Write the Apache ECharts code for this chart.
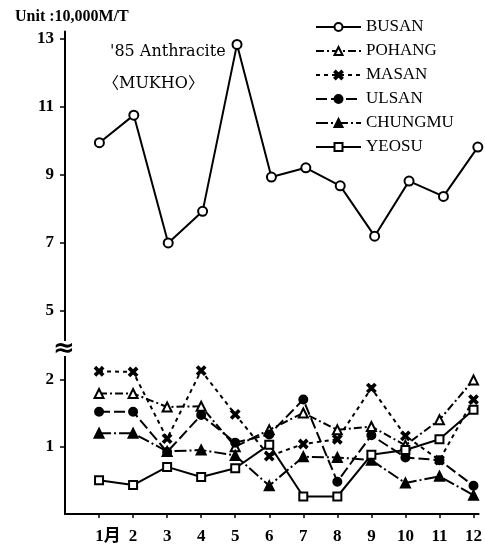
<!DOCTYPE html>
<html><head><meta charset="utf-8">
<script src="https://cdn.jsdelivr.net/npm/echarts@6.0.0/dist/echarts.min.js"></script>
<style>html,body{margin:0;padding:0;background:#fff}#c{width:485px;height:552px}</style>
</head><body><div id="c"></div>
<script>
// Month labels (x axis)
const months = ['1月','2','3','4','5','6','7','8','9','10','11','12'];
const monthNums = [1,2,3,4,5,6,7,8,9,10,11,12];
// Y tick labels
const upperTicks = [5,7,9,11,13];
const lowerTicks = [1,2];
// Series values (unit: 10,000 M/T)
const busan   = [9.93,10.74,6.98,7.91,12.82,8.92,9.19,8.66,7.18,8.80,8.35,9.80];
const pohang  = [1.79,1.79,1.59,1.60,1.00,1.25,1.50,1.25,1.30,1.02,1.40,1.99];
const masan   = [2.12,2.11,1.12,2.13,1.48,0.86,1.04,1.11,1.87,1.16,0.80,1.70];
const ulsan   = [1.52,1.52,0.92,1.47,1.06,1.18,1.70,0.48,1.17,0.84,0.80,0.42];
const chungmu = [1.20,1.20,0.93,0.95,0.87,0.42,0.85,0.84,0.80,0.46,0.56,0.28];
const yeosu   = [0.50,0.43,0.70,0.55,0.68,1.03,0.26,0.26,0.88,0.95,1.11,1.55];

const serif = "'Liberation Serif','Noto Sans CJK JP',serif";
const xMark = 'path://M0,1.5L1.5,0L5,3.5L8.5,0L10,1.5L6.5,5L10,8.5L8.5,10L5,6.5L1.5,10L0,8.5L3.5,5Z';
const pairs = arr => arr.map((v,i)=>[monthNums[i], v]);

function lineSeries(name, arr, grid, symbol, dash, size){
  return {
    name, type:'line', data: pairs(arr),
    xAxisIndex: grid, yAxisIndex: grid,
    symbol, symbolSize: size || 8,
    lineStyle:{color:'#000', width:2, type: dash},
    itemStyle:{color:'#000', borderColor:'#000', borderWidth:2},
    emphasis:{disabled:true}, z: 3
  };
}

const chart = echarts.init(document.getElementById('c'), null, {renderer:'canvas'});
chart.setOption({
  animation:false,
  backgroundColor:'#fff',
  grid:[
    {left:65, right:2, top:31.5, bottom:173.7},
    {left:65, right:2, top:355.8, bottom:38}
  ],
  xAxis:[
    {type:'value', gridIndex:0, min:0, max:12.15, show:false},
    {type:'value', gridIndex:1, min:0, max:12.15,
     axisLine:{show:true, lineStyle:{color:'#000', width:2}},
     axisTick:{show:true, customValues: monthNums, length:4, lineStyle:{color:'#000', width:1.5}},
     splitLine:{show:false},
     axisLabel:{customValues: monthNums, margin:14, color:'#000', fontSize:17, fontWeight:'bold', fontFamily:serif,
       formatter: v => v===1 ? '{f|'+months[0]+'}' : months[v-1],
       rich:{f:{fontSize:17, fontWeight:'bold', fontFamily:serif, color:'#000', padding:[0,0,0,18]}}}
    }
  ],
  yAxis:[
    {type:'value', gridIndex:0, min:3, max:13.2,
     axisLine:{show:true, lineStyle:{color:'#000', width:2}},
     axisTick:{show:true, customValues: upperTicks, length:5, lineStyle:{color:'#000', width:1.5}},
     axisLabel:{customValues: upperTicks, margin:11, color:'#000', fontSize:17, fontWeight:'bold', fontFamily:serif},
     splitLine:{show:false}},
    {type:'value', gridIndex:1, min:0, max:2.35,
     axisLine:{show:true, lineStyle:{color:'#000', width:2}},
     axisTick:{show:true, customValues: lowerTicks, length:5, lineStyle:{color:'#000', width:1.5}},
     axisLabel:{customValues: lowerTicks, margin:11, color:'#000', fontSize:17, fontWeight:'bold', fontFamily:serif},
     splitLine:{show:false}}
  ],
  legend:{
    orient:'vertical', left:315, top:18, padding:0,
    itemWidth:45, itemHeight:10, itemGap:6,
    data:['BUSAN','POHANG','MASAN','ULSAN','CHUNGMU','YEOSU'],
    textStyle:{color:'#000', fontSize:17, fontFamily:serif, lineHeight:18}
  },
  series:[
    lineSeries('BUSAN', busan, 0, 'emptyCircle', 'solid', 9),
    lineSeries('POHANG', pohang, 1, 'emptyTriangle', [8,3,2,3], 9),
    lineSeries('MASAN', masan, 1, xMark, [4,4], 8),
    lineSeries('ULSAN', ulsan, 1, 'circle', [11,4], 8),
    lineSeries('CHUNGMU', chungmu, 1, 'triangle', [12,3,2,3], 9),
    lineSeries('YEOSU', yeosu, 1, 'emptyRect', 'solid', 8)
  ],
  graphic:[
    {type:'text', left:15, top:9, z:100,
     style:{text:'Unit :10,000M/T', fill:'#000', font:"bold 16px 'Liberation Serif'"}},
    {type:'text', left:110, top:44, z:100,
     style:{text:"'85 Anthracite", fill:'#000', font:"16px 'DejaVu Serif'"}},
    {type:'text', left:103, top:76, z:100,
     style:{text:'〈MUKHO〉', fill:'#000', font:"16px 'DejaVu Serif','Noto Sans CJK JP'"}},
    {type:'rect', z:100, shape:{x:56, y:341, width:18, height:15}, style:{fill:'#fff'}},
    {type:'text', z:101, x:64, y:349,
     style:{text:'≈', fill:'#000', font:"bold 26px 'DejaVu Sans'", align:'center', verticalAlign:'middle'}}
  ]
});
</script>
</body></html>
